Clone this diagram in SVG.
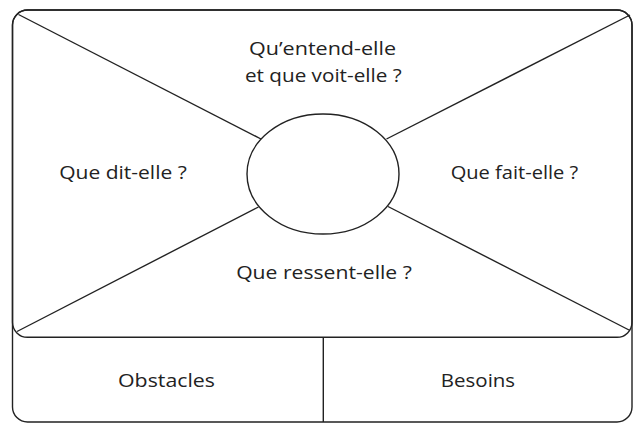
<svg xmlns="http://www.w3.org/2000/svg" width="636" height="424" viewBox="0 0 636 424">
<style>
.ln{fill:none;stroke:#222;stroke-width:1.4}
.t{font-family:"Open Sans","Liberation Sans",sans-serif;font-size:17.5px;fill:#222;text-anchor:middle}
</style>
<rect x="0" y="0" width="636" height="424" fill="#fff"/>
<g id="frame">
<rect class="ln" x="12.5" y="10" width="619.5" height="412" rx="15"/>
<rect class="ln" x="12.5" y="10" width="619.5" height="327.3" rx="15"/>
</g>
<g id="connectors">
<line class="ln" x1="18.5" y1="14.5" x2="261" y2="139"/>
<line class="ln" x1="630" y1="15" x2="386.5" y2="139"/>
<line class="ln" x1="17" y1="331.5" x2="258.5" y2="207"/>
<line class="ln" x1="630" y1="330.5" x2="388" y2="206.5"/>
<line class="ln" x1="323.3" y1="337.3" x2="323.3" y2="422"/>
</g>
<g id="center">
<ellipse class="ln" cx="323" cy="174" rx="76" ry="60" fill="#fff"/>
</g>
<g id="top">
<text class="t" x="322.5" y="55" textLength="147" lengthAdjust="spacingAndGlyphs">Qu’entend-elle</text>
<text class="t" x="323.3" y="81.5" textLength="156.7" lengthAdjust="spacingAndGlyphs">et que voit-elle ?</text>
</g>
<g id="left">
<text class="t" x="123" y="179" textLength="127.7" lengthAdjust="spacingAndGlyphs">Que dit-elle ?</text>
</g>
<g id="right">
<text class="t" x="514.5" y="179" textLength="127.6" lengthAdjust="spacingAndGlyphs">Que fait-elle ?</text>
</g>
<g id="bottom">
<text class="t" x="324" y="279.3" textLength="175.7" lengthAdjust="spacingAndGlyphs">Que ressent-elle ?</text>
</g>
<g id="obstacles">
<text class="t" x="166.5" y="386.7" textLength="97" lengthAdjust="spacingAndGlyphs">Obstacles</text>
</g>
<g id="besoins">
<text class="t" x="478" y="386.7" textLength="74.3" lengthAdjust="spacingAndGlyphs">Besoins</text>
</g>
</svg>
